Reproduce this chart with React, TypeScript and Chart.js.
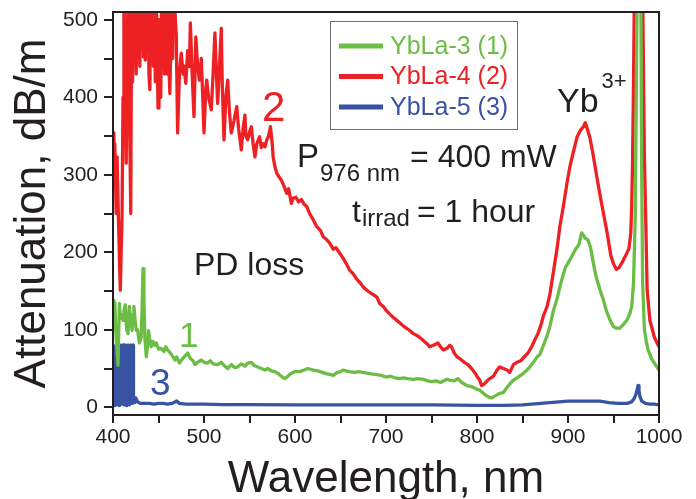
import React, { useEffect, useRef, useState } from "react";
import { Chart, registerables } from "chart.js";

Chart.register(...registerables);

// ---- data: [wavelength nm, attenuation dB/m] ----
const YBLA3: [number, number][] = [
  [400,138],[401,120],[402,135],[403,100],[404,80],[405.5,54],[407,134],[408,115],[409,120],[411,112],[412,125],[413.5,132],[415,100],[416.5,95],[418,130],[419.5,110],[421,99],[422,120],[423,130],[424.5,110],[425.6,99],[427,100],[429,83],[431,90],[432,130],[433,179],[434,140],[435,90],[436.6,65],[438,80],[439,99],[440,90],[442,78],[444,85],[446,80],[447.6,83],[450,75],[453,76],[456,72],[458,78],[460,74],[463,70],[466,65],[468,61],[470,65],[473,57],[476,62],[479,66],[482,70],[485,63],[488,60],[490,55],[493,58],[497,61],[500,58],[504,57],[507,60],[510,56],[515,55],[519,58],[522,54],[526,50],[530,55],[534,51],[537,52],[541,56],[545,53],[548,57],[552,58],[555,54],[559,52],[563,50],[567,48],[570,50],[574,47],[578,46],[582,43],[586,39],[589,37],[592,40],[596,44],[600,46],[605,46],[610,48],[614,50],[617,49],[620,48],[625,47],[630,45],[635,43],[640,42],[642,41],[645,44],[650,46],[653,48],[656,47],[660,46],[665,45],[670,46],[675,45],[679,44],[684,43],[690,42],[695,41],[700,39],[705,40],[710,38],[715,37],[719,38],[724,37],[730,36],[735,37],[741,36],[746,34],[750,33],[755,34],[760,32],[763,34],[767,36],[770,35],[775,34],[779,37],[783,32],[786,30],[789,28],[793,27],[797,25],[800,23],[803,22],[806,19],[809,16],[813,13],[816,12],[819,14],[822,16],[825,18],[829,19],[832,24],[836,30],[840,35],[844,38],[848,41],[851,44],[855,48],[858,52],[862,58],[866,65],[869,68],[873,80],[877,92],[880,104],[884,125],[888,140],[891,155],[894,168],[897,180],[900,186],[903,192],[906,199],[909,205],[912,210],[915,225],[917,222],[919,218],[922,216],[925,205],[928,185],[931,168],[935,152],[939,138],[942,125],[946,113],[950,104],[953,102],[957,102],[961,107],[965,113],[968,121],[970,130],[972,160],[974,250],[975,400],[976,540],[978,540],[980,540],[981,300],[982,160],[984,100],[986,85],[988,74],[992,62],[996,55],[1000,48]
];

const YBLA4: [number, number][] = [
  [400,354],[401,332],[402,340],[403.5,250],[404.5,323],[406,242],[408,151],[410,250],[411,400],[412,540],[413,450],[414.5,315],[416.5,540],[418,400],[419.5,250],[420.5,540],[421.5,420],[422.5,540],[423.5,470],[424.5,540],[425.5,430],[426.5,520],[427.5,470],[428.5,540],[429.5,440],[430.5,540],[431.5,470],[432.5,540],[433.5,452],[434.5,540],[435.5,448],[436.5,540],[437.5,460],[438.5,540],[439.5,430],[440.5,410],[441.5,540],[442.5,474],[443.5,540],[444.5,440],[445.5,540],[446.5,420],[447.5,540],[448.5,460],[449.5,386],[450.5,500],[451.5,420],[452.5,400],[453.5,540],[454.5,470],[455.5,540],[456.5,430],[457.5,470],[458.5,540],[459.5,430],[460.5,520],[461.5,440],[462.5,405],[463.5,470],[464.5,540],[465.5,450],[466.5,540],[467.5,540],[468.5,500],[469.5,480],[471,354],[473,430],[475,457],[477,430],[478,440],[480,418],[482,460],[484,440],[485,496],[487,430],[489,375],[491,478],[493,440],[495,422],[497,450],[498,420],[500,354],[502,410],[503,422],[505,400],[508,384],[510,430],[512,483],[514,420],[515,392],[517,440],[519,489],[520,420],[522,345],[524,400],[526,422],[528,380],[530,354],[533,370],[536,388],[538,360],[541,332],[543,360],[545,377],[546,350],[548,345],[550,355],[552,362],[554,340],[556,323],[558,340],[561,349],[563,335],[565,340],[567,336],[569,345],[571,350],[573,362],[575,340],[576,323],[578,310],[580,302],[582,298],[585,293],[588,285],[591,276],[593,282],[596,263],[598,270],[601,271],[604,265],[607,268],[610,262],[613,259],[616,250],[620,242],[624,233],[628,228],[631,220],[635,216],[638,212],[642,204],[645,206],[649,199],[653,192],[656,186],[660,177],[664,172],[668,165],[672,160],[675,155],[680,150],[685,146],[690,142],[693,134],[697,130],[701,124],[706,118],[712,112],[716,108],[720,104],[725,100],[730,95],[735,92],[740,87],[745,82],[748,78],[752,80],[757,83],[760,78],[763,74],[767,76],[770,80],[772,78],[775,70],[778,65],[782,62],[786,58],[790,55],[794,50],[798,44],[801,38],[803,35],[805,28],[808,30],[811,34],[814,37],[818,40],[822,48],[825,52],[829,50],[833,48],[836,45],[840,55],[844,58],[848,60],[852,65],[856,70],[860,78],[864,88],[867,95],[870,105],[873,118],[877,130],[880,145],[884,175],[888,205],[891,233],[895,260],[899,290],[902,310],[906,330],[910,349],[914,358],[917,362],[919,367],[921,360],[924,348],[927,330],[931,302],[935,275],[939,250],[943,225],[947,196],[950,185],[953,178],[956,180],[960,188],[964,197],[967,205],[969,225],[970,260],[971,320],[972,420],[973,540],[976,540],[980,540],[982,540],[984,320],[985,267],[987,151],[990,112],[995,90],[1000,78]
];

const YBLA5: [number, number][] = [
  [400,5],[401,78],[402,2],[403,80],[404,3],[405,80],[406,80],[407,2],[408,80],[409,4],[410,80],[411,80],[412,3],[413,80],[414,80],[415,2],[416,80],[417,80],[418,3],[419,80],[420,80],[421,5],[422,80],[422.5,6],[424,6],[425,12],[427,7],[430,5],[435,5],[440,5],[445,4],[450,5],[455,5],[460,4],[465,5],[470,8],[473,5],[480,4],[490,4],[500,4],[520,3.5],[550,3.5],[600,3],[650,3],[700,3],[750,3],[800,2.5],[830,2.5],[850,3],[870,5],[890,7],[900,8],[920,8],[935,8],[945,6],[955,5],[965,5],[970,7],[973,12],[975,18],[977,28],[978,22],[979,14],[981,8],[985,5],[990,4],[995,4],[1000,3]
];

const SERIES_LABELS = ["YbLa-3 (1)", "YbLa-4 (2)", "YbLa-5 (3)"];
const COLORS = ["#6cbd45", "#ed2024", "#3953a4"];
const X_MIN = 400, X_MAX = 1000, Y_MIN = -10, Y_MAX = 510;
const X_TICKS = [400, 500, 600, 700, 800, 900, 1000];
const X_TICK_MARKS = [400, 450, 500, 550, 600, 650, 700, 750, 800, 850, 900, 950, 1000];
const Y_TICKS = [0, 100, 200, 300, 400, 500];
const Y_TICK_MARKS = [0, 50, 100, 150, 200, 250, 300, 350, 400, 450, 500];
const X_TITLE = "Wavelength, nm";
const Y_TITLE = "Attenuation, dB/m";

const FONT = "'Liberation Sans', Arial, Helvetica, sans-serif";
const INK = "#231f20";

type Geom = { L: number; R: number; T: number; B: number; xt: number[]; yt: number[] };

function drawLabels(ctx: CanvasRenderingContext2D, chart: any) {
  ctx.save();
  const lx = 330, ly = 21, lw = 187, lh = 108;
  ctx.lineWidth = 1;
  ctx.strokeStyle = "#6d6e71";
  ctx.strokeRect(lx + 0.5, ly + 0.5, lw, lh);
  chart.data.datasets.forEach((ds: any, i: number) => {
    const yy = 46 + i * 30.5;
    ctx.strokeStyle = ds.borderColor;
    ctx.lineWidth = 5;
    ctx.beginPath();
    ctx.moveTo(339, yy);
    ctx.lineTo(383, yy);
    ctx.stroke();
    ctx.fillStyle = ds.borderColor;
    ctx.font = `25px ${FONT}`;
    ctx.textBaseline = "middle";
    ctx.textAlign = "left";
    ctx.fillText(ds.label, 390, yy + 1);
  });
  const txt = (s: string, x: number, y: number, size: number, color = INK) => {
    ctx.font = `${size}px ${FONT}`;
    ctx.fillStyle = color;
    ctx.textBaseline = "alphabetic";
    ctx.textAlign = "left";
    ctx.fillText(s, x, y);
    return x + ctx.measureText(s).width;
  };
  let x1 = txt("P", 297, 167, 33);
  x1 = txt("976 nm", x1 + 1, 181, 24);
  txt("= 400 mW", x1 + 10, 167, 32);
  let x2 = txt("t", 352, 222, 32);
  x2 = txt("irrad", x2 + 1, 226, 24);
  txt("= 1 hour", x2 + 7, 222, 32);
  const x3 = txt("Yb", 557, 112, 34);
  txt("3+", x3 + 3, 88, 22);
  txt("PD loss", 194, 275, 32);
  txt("2", 262, 121, 42, COLORS[1]);
  txt("1", 179, 347, 35, COLORS[0]);
  txt("3", 150, 395, 37, COLORS[2]);
  ctx.restore();
}

const fin = (v: any, fb: number) => (typeof v === "number" && isFinite(v) ? v : fb);

export default function App() {
  const ref = useRef<HTMLCanvasElement | null>(null);
  const [geom, setGeom] = useState<Geom | null>(null);
  useEffect(() => {
    if (!ref.current) return;
    const series = [YBLA3, YBLA4, YBLA5];
    const labelsPlugin = { id: "labels", afterDraw(chart: any) { drawLabels(chart.ctx, chart); } };
    const chart = new Chart(ref.current, {
      type: "line",
      data: {
        datasets: series.map((s, i) => ({
          label: SERIES_LABELS[i],
          data: s.map(([x, y]) => ({ x, y })),
          borderColor: COLORS[i],
          backgroundColor: COLORS[i],
          borderWidth: 3.3,
          pointRadius: 0,
          tension: 0,
          borderJoinStyle: "round" as const,
        })),
      },
      options: {
        responsive: false,
        animation: false,
        layout: { padding: { top: 12, right: 37, left: 0, bottom: 0 } },
        plugins: { legend: { display: false }, tooltip: { enabled: false } },
        scales: {
          x: {
            type: "linear",
            min: X_MIN,
            max: X_MAX,
            afterBuildTicks: (s: any) => { s.ticks = X_TICKS.map((v) => ({ value: v })); },
            afterFit: (s: any) => { s.height = 84; s.paddingLeft = 0; s.paddingRight = 0; },
            grid: { display: false, drawTicks: true, tickLength: 7 },
            border: { display: false },
            ticks: { maxRotation: 0, font: { family: FONT, size: 21 }, color: INK, padding: 3, callback: (v: any) => String(v) },
            title: { display: true, text: X_TITLE, font: { family: FONT, size: 44, lineHeight: 1 }, color: INK, padding: { top: 0, bottom: -3 } },
          },
          y: {
            type: "linear",
            min: Y_MIN,
            max: Y_MAX,
            afterBuildTicks: (s: any) => { s.ticks = Y_TICKS.map((v) => ({ value: v })); },
            afterFit: (s: any) => { s.width = 113; s.paddingTop = 0; s.paddingBottom = 0; },
            grid: { display: false, drawTicks: true, tickLength: 8 },
            border: { display: false },
            ticks: { font: { family: FONT, size: 21 }, color: INK, padding: 7, callback: (v: any) => String(v) },
            title: { display: true, text: Y_TITLE, font: { family: FONT, size: 44 }, color: INK, padding: { top: 6, bottom: 0 } },
          },
        },
      },
      plugins: [labelsPlugin],
    });
    const xs: any = chart.scales["x"];
    const ys: any = chart.scales["y"];
    const ca: any = chart.chartArea || {};
    const L = fin(xs.getPixelForValue(X_MIN), fin(ca.left, 113));
    const R = fin(xs.getPixelForValue(X_MAX), fin(ca.right, 659));
    const T = fin(ys.getPixelForValue(Y_MAX), fin(ca.top, 12));
    const B = fin(ys.getPixelForValue(Y_MIN), fin(ca.bottom, 415));
    const xt = X_TICK_MARKS.map((v) => fin(xs.getPixelForValue(v), L + ((v - X_MIN) / (X_MAX - X_MIN)) * (R - L)));
    const yt = Y_TICK_MARKS.map((v) => fin(ys.getPixelForValue(v), B - ((v - Y_MIN) / (Y_MAX - Y_MIN)) * (B - T)));
    setGeom({ L, R, T, B, xt, yt });
    return () => chart.destroy();
  }, []);

  return (
    <div style={{ position: "absolute", left: 0, top: 0, width: 696, height: 499, background: "#fff", overflow: "hidden" }}>
      <canvas ref={ref} width={696} height={499} style={{ position: "absolute", left: 0, top: 0, width: 696, height: 499 }} />
      {geom && (
        <>
          <div style={{ position: "absolute", left: Math.round(geom.L) - 1, top: Math.round(geom.T) - 1, width: Math.round(geom.R - geom.L) + 2, height: Math.round(geom.B - geom.T) + 2, border: `2px solid ${INK}`, boxSizing: "border-box", pointerEvents: "none" }} />
          {geom.xt.map((px, i) => (
            <div key={"xt" + i} style={{ position: "absolute", left: Math.round(px) - 1, top: Math.round(geom.B), width: 2, height: 8, background: INK }} />
          ))}
          {geom.yt.map((py, i) => (
            <div key={"yt" + i} style={{ position: "absolute", left: Math.round(geom.L) - 9, top: Math.round(py) - 1, width: 9, height: 2, background: INK }} />
          ))}
        </>
      )}
    </div>
  );
}
